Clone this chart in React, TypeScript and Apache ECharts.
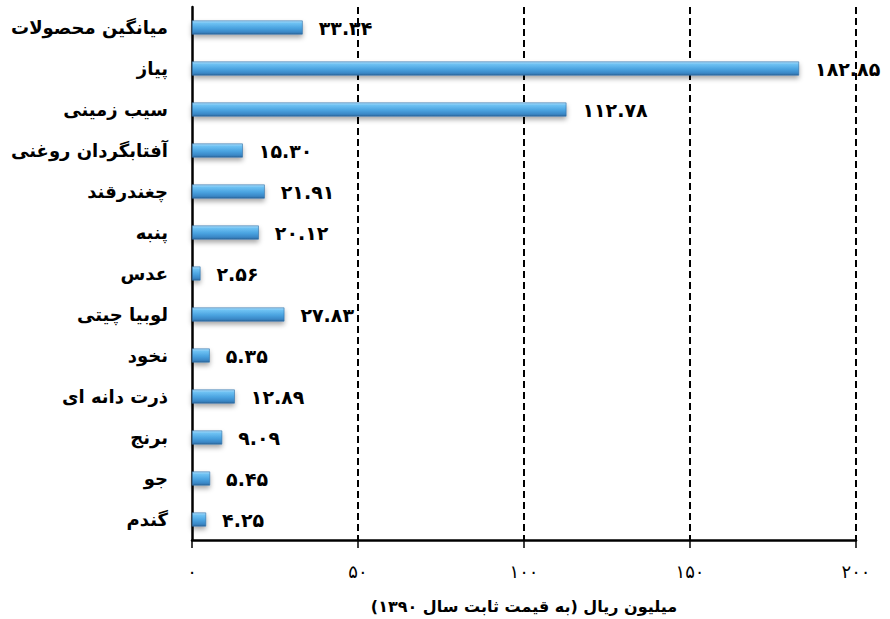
import React, { useEffect, useRef } from "react";
import * as echarts from "echarts";

const categories = [
  "میانگین محصولات",
  "پیاز",
  "سیب زمینی",
  "آفتابگردان روغنی",
  "چغندرقند",
  "پنبه",
  "عدس",
  "لوبیا چیتی",
  "نخود",
  "ذرت دانه ای",
  "برنج",
  "جو",
  "گندم",
];
const values = [33.34, 182.85, 112.78, 15.3, 21.91, 20.12, 2.56, 27.83, 5.35, 12.89, 9.09, 5.45, 4.25];
const xTicks = [0, 50, 100, 150, 200];
const axisTitle = "میلیون ریال (به قیمت ثابت سال ۱۳۹۰)";

const toFa = (s: string) => s.replace(/[0-9]/g, (d) => "۰۱۲۳۴۵۶۷۸۹"[Number(d)]);

export default function App() {
  const ref = useRef<HTMLDivElement>(null);
  useEffect(() => {
    if (!ref.current) return;
    const chart = echarts.init(ref.current, null, { renderer: "svg" });
    const font = "DejaVu Sans";
    chart.setOption({
      animation: false,
      backgroundColor: "#ffffff",
      grid: { left: 192, right: 34, top: 7, bottom: 76, containLabel: false },
      xAxis: {
        type: "value",
        min: xTicks[0],
        max: xTicks[xTicks.length - 1],
        interval: 50,
        axisLine: { show: true, lineStyle: { color: "#000", width: 2.5 } },
        axisTick: { show: true, length: 8, lineStyle: { color: "#000", width: 1.5 } },
        axisLabel: {
          color: "#000",
          fontSize: 18,
          fontFamily: font,
          margin: 22,
          formatter: (v: number) => toFa(String(v)),
        },
        splitLine: {
          show: true,
          showMinLine: false,
          lineStyle: { color: "#000", width: 2, type: [7, 4] },
        },
        name: axisTitle,
        nameLocation: "middle",
        nameGap: 58,
        nameTextStyle: { color: "#000", fontSize: 16, fontWeight: "bold", fontFamily: font },
      },
      yAxis: {
        type: "category",
        inverse: true,
        data: categories,
        axisLine: { show: true, lineStyle: { color: "#000", width: 2.5 } },
        axisTick: { show: false },
        axisLabel: {
          color: "#000",
          fontSize: 18,
          fontWeight: "bold",
          fontFamily: font,
          margin: 24,
        },
      },
      series: [
        {
          type: "bar",
          data: values,
          barWidth: 14,
          itemStyle: {
            color: new echarts.graphic.LinearGradient(0, 0, 0, 1, [
              { offset: 0, color: "#a8dcfa" },
              { offset: 0.2, color: "#6cc0f2" },
              { offset: 0.55, color: "#4aa3e0" },
              { offset: 0.85, color: "#3a87c6" },
              { offset: 1, color: "#2b659a" },
            ]),
            borderColor: "#2f6ea6",
            borderWidth: 0.6,
            shadowColor: "rgba(0,0,0,0.35)",
            shadowBlur: 5,
            shadowOffsetY: 3,
          },
          label: {
            show: true,
            position: "right",
            distance: 16,
            color: "#000",
            fontSize: 19,
            fontWeight: "bold",
            fontFamily: font,
            formatter: (p: any) => toFa(p.value.toFixed(2)),
          },
        },
      ],
    });
    return () => chart.dispose();
  }, []);
  return (
    <div
      ref={ref}
      style={{ position: "absolute", left: 0, top: 0, width: 890, height: 619 }}
    />
  );
}
